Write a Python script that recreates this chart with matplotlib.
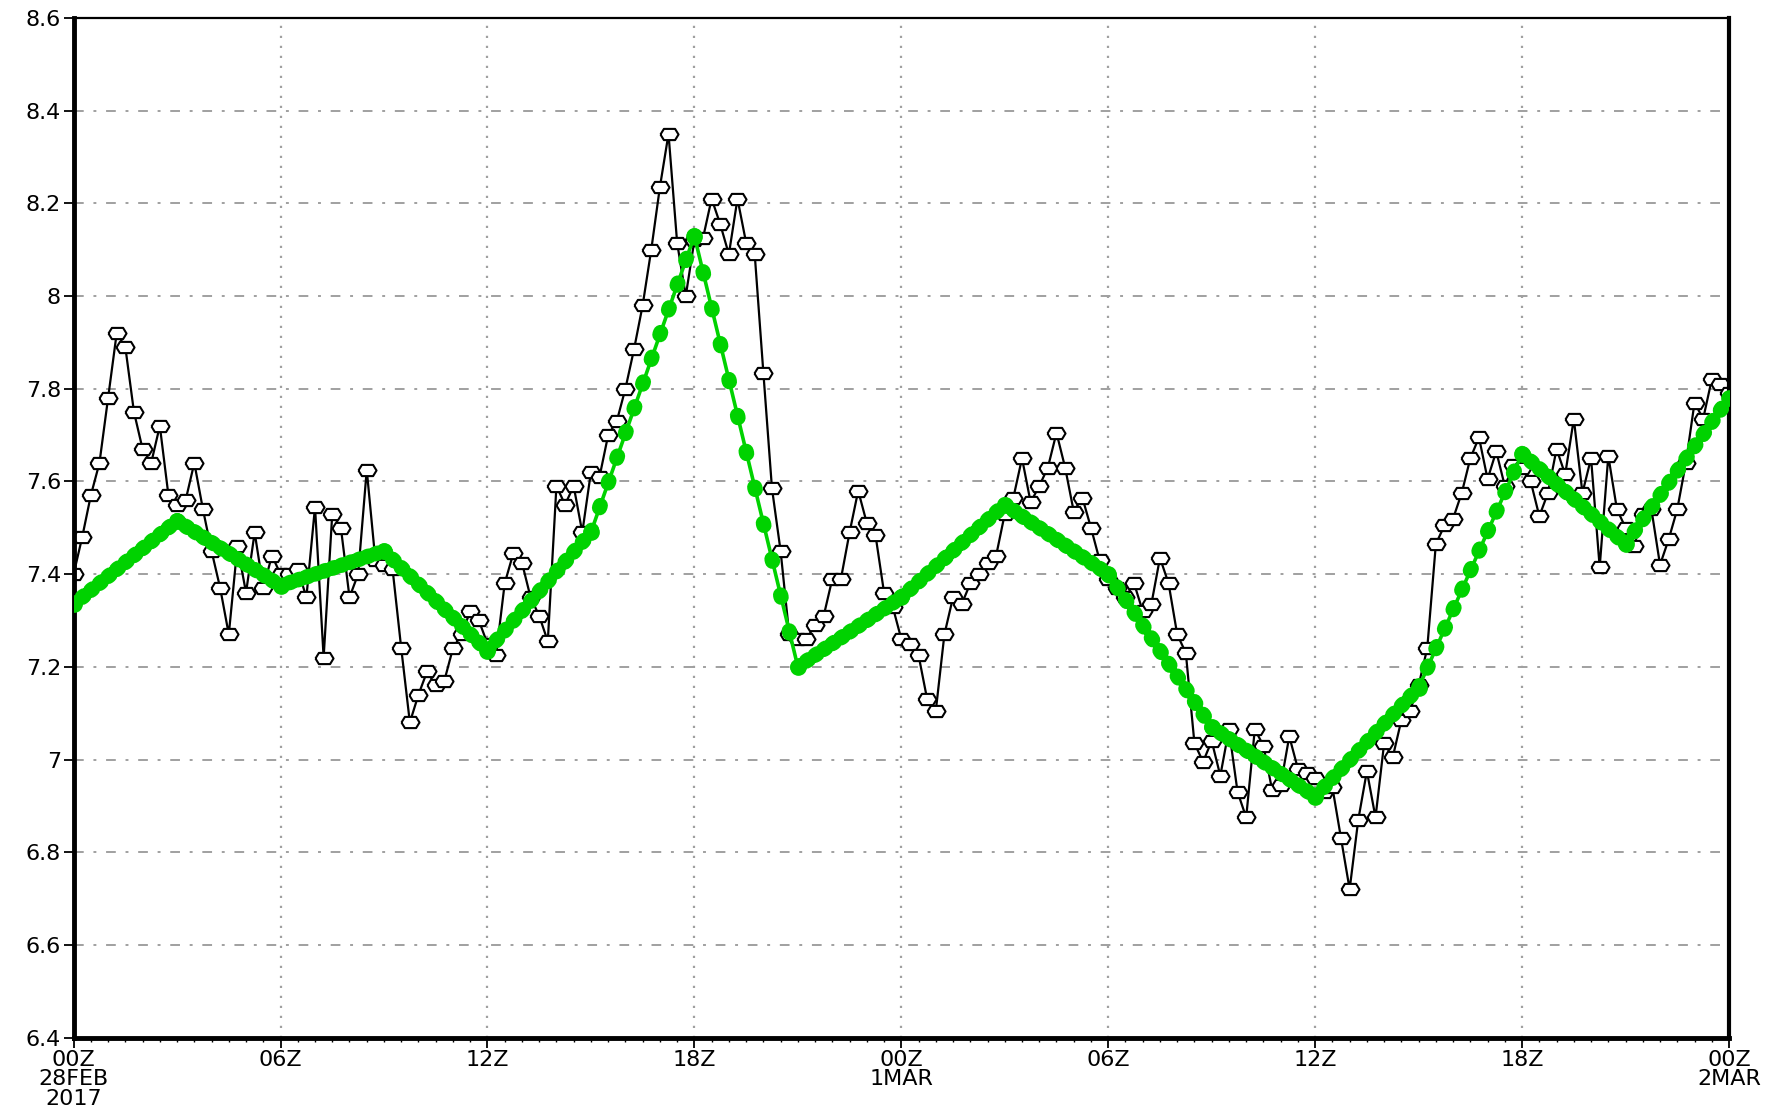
import numpy as np
import matplotlib
matplotlib.use('Agg')
import matplotlib.pyplot as plt
from matplotlib.ticker import MultipleLocator

plt.rcParams['font.family'] = ['Liberation Sans Narrow', 'DejaVu Sans']

# observed series, one value every 15 minutes (00Z 28FEB .. 00Z 2MAR)
obs_28feb_00_06 = [7.40, 7.48, 7.57, 7.64, 7.78, 7.92, 7.89, 7.75, 7.67, 7.64, 7.72, 7.57,
                   7.55, 7.56, 7.64, 7.54, 7.45, 7.37, 7.27, 7.46, 7.36, 7.49, 7.37, 7.44]
obs_28feb_06_12 = [7.40, 7.40, 7.41, 7.35, 7.545, 7.22, 7.53, 7.50, 7.35, 7.40, 7.625, 7.43,
                   7.42, 7.41, 7.24, 7.08, 7.14, 7.19, 7.16, 7.17, 7.24, 7.27, 7.32, 7.30]
obs_28feb_12_18 = [7.25, 7.225, 7.38, 7.445, 7.425, 7.35, 7.31, 7.255, 7.59, 7.55, 7.59, 7.49,
                   7.62, 7.61, 7.70, 7.73, 7.80, 7.885, 7.98, 8.10, 8.235, 8.35, 8.115, 8.00]
obs_28feb_18_24 = [8.12, 8.125, 8.21, 8.155, 8.09, 8.21, 8.115, 8.09, 7.835, 7.585, 7.45, 7.27,
                   7.26, 7.26, 7.29, 7.31, 7.39, 7.39, 7.49, 7.58, 7.51, 7.485, 7.36, 7.33]
obs_1mar_00_06 = [7.26, 7.25, 7.225, 7.13, 7.105, 7.27, 7.35, 7.335, 7.38, 7.40, 7.425, 7.44,
                  7.53, 7.565, 7.65, 7.555, 7.59, 7.63, 7.705, 7.63, 7.535, 7.565, 7.50, 7.43]
obs_1mar_06_12 = [7.39, 7.37, 7.35, 7.38, 7.32, 7.335, 7.435, 7.38, 7.27, 7.23, 7.035, 6.995,
                  7.04, 6.965, 7.065, 6.93, 6.875, 7.065, 7.03, 6.935, 6.945, 7.05, 6.98, 6.97]
obs_1mar_12_18 = [6.96, 6.93, 6.94, 6.83, 6.72, 6.87, 6.975, 6.875, 7.035, 7.005, 7.085, 7.105,
                  7.16, 7.24, 7.465, 7.505, 7.52, 7.575, 7.65, 7.695, 7.605, 7.665, 7.59, 7.635]
obs_1mar_18_24 = [7.63, 7.60, 7.525, 7.575, 7.67, 7.615, 7.735, 7.575, 7.65, 7.415, 7.655, 7.54,
                  7.50, 7.46, 7.53, 7.54, 7.42, 7.475, 7.54, 7.64, 7.77, 7.735, 7.82, 7.81, 7.79]

# 3-hourly series (green)
fc = [7.335, 7.515, 7.375, 7.45, 7.235, 7.49, 8.13, 7.20, 7.35,
      7.55, 7.40, 7.07, 6.92, 7.155, 7.66, 7.465, 7.78]

tick_hours = [0, 6, 12, 18, 24, 30, 36, 42, 48]
tick_labels = ['00Z\n28FEB\n2017', '06Z', '12Z', '18Z', '00Z\n1MAR', '06Z', '12Z', '18Z', '00Z\n2MAR']
ytick_vals = [6.4, 6.6, 6.8, 7.0, 7.2, 7.4, 7.6, 7.8, 8.0, 8.2, 8.4, 8.6]

obs = (obs_28feb_00_06 + obs_28feb_06_12 + obs_28feb_12_18 + obs_28feb_18_24 +
       obs_1mar_00_06 + obs_1mar_06_12 + obs_1mar_12_18 + obs_1mar_18_24)
t_obs = np.arange(len(obs)) * 0.25
t_fc = np.arange(len(fc)) * 3.0

green = '#00d200'
grid_col = '#a0a0a0'

fig = plt.figure(figsize=(17.76, 11.14), dpi=100)
ax = fig.add_axes([0.04144, 0.06858, 0.9321, 0.9153])
ax.set_xlim(0, 48)
ax.set_ylim(6.4, 8.6)

# grid
for y in ytick_vals[1:-1]:
    ax.axhline(y, color=grid_col, lw=1.4, ls=(0, (5, 5, 1.5, 5)), zorder=0)
for x in tick_hours[1:-1]:
    ax.axvline(x, color=grid_col, lw=1.6, ls=(0, (1, 3.5)), zorder=0)

# observed line with open markers
hexm = [(-1, 0), (-0.62, 0.62), (0.62, 0.62), (1, 0), (0.62, -0.62), (-0.62, -0.62), (-1, 0)]
ax.plot(t_obs, obs, color='black', lw=1.6, marker=hexm, ms=13,
        mfc='white', mec='black', mew=1.5, zorder=2)

# green line: thin line + beads every 15 minutes along each 3h segment
bead_lw = 11
ax.plot(t_fc, fc, color=green, lw=2.6, zorder=3)
ax.plot(t_fc, fc, ls='none', marker='o', ms=bead_lw, color=green, zorder=4)
disp = ax.transData.transform(np.column_stack([t_fc, fc]))
for i in range(len(fc) - 1):
    seg_px = np.hypot(*(disp[i + 1] - disp[i]))
    period_pt = seg_px / 12 * 72 / fig.dpi
    on = 0.15
    off = max(period_pt / bead_lw - on, 0.01)
    ax.plot(t_fc[i:i + 2], fc[i:i + 2], color=green, lw=bead_lw,
            ls=(0, (on, off)), dash_capstyle='round', zorder=4)

# axes frame
for side, w in [('left', 3.5), ('bottom', 3.5), ('right', 3.0), ('top', 1.6)]:
    ax.spines[side].set_linewidth(w)
    ax.spines[side].set_color('black')

ax.set_xticks(tick_hours)
ax.set_xticklabels(tick_labels, linespacing=0.95)
ax.xaxis.set_minor_locator(MultipleLocator(0.5))
ax.set_yticks(ytick_vals)
ax.set_yticklabels(['%g' % v for v in ytick_vals])
ax.tick_params(axis='both', which='major', direction='out', length=7, width=1.3,
               labelsize=16, pad=2)
ax.tick_params(axis='x', which='minor', direction='out', length=3, width=1.0)

fig.savefig('out.png', dpi=100)
